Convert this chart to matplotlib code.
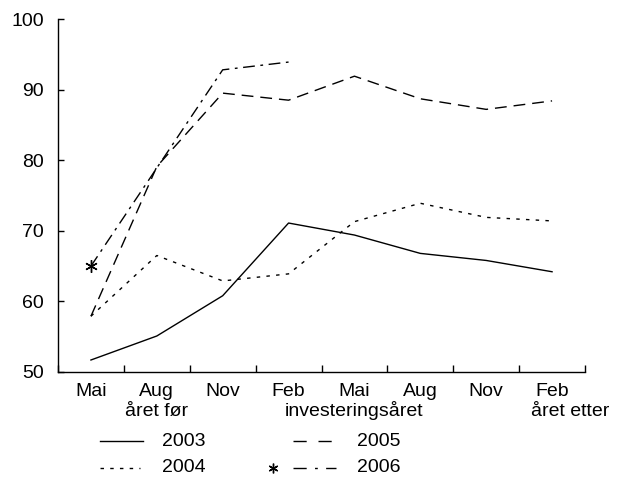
import matplotlib
matplotlib.use("Agg")
import matplotlib.pyplot as plt
from matplotlib.lines import Line2D
import matplotlib.transforms as mtransforms

plt.rcParams['font.family'] = ['Liberation Sans', 'DejaVu Sans']

months = ["Mai", "Aug", "Nov", "Feb", "Mai", "Aug", "Nov", "Feb"]
y2003 = [51.7, 55.1, 60.8, 71.1, 69.4, 66.8, 65.8, 64.2]
y2004 = [57.9, 66.5, 62.9, 63.9, 71.3, 73.9, 71.9, 71.4]
y2005 = [57.9, 79.1, 89.5, 88.5, 91.9, 88.7, 87.2, 88.4]
y2006 = [65.0, 78.9, 92.8, 93.9]
yticks = [50, 60, 70, 80, 90, 100]

FS = 14
W, H = 624, 479
fig = plt.figure(figsize=(W / 100, H / 100), dpi=100)
ax = fig.add_axes([58 / W, 1 - 372 / H, (585 - 58) / W, (372 - 19) / H])

xs = [i + 0.5 for i in range(len(months))]
lw = 1.0
st2003 = dict(color='black', lw=lw, linestyle='-')
st2004 = dict(color='black', lw=lw, linestyle=(0, (2.5, 4.5)))
st2005 = dict(color='black', lw=lw, linestyle=(0, (8.5, 5)))
st2006 = dict(color='black', lw=lw, linestyle=(0, (8.5, 4, 2, 4)))

ax.plot(xs, y2003, **st2003)
ax.plot(xs, y2004, **st2004)
ax.plot(xs, y2005, **st2005)
ax.plot(xs[:len(y2006)], y2006, **st2006)
ax.plot(xs[0], y2006[0], linestyle='none', marker=(6, 2, 0), markersize=9,
        color='black', markeredgewidth=1.0)

ax.set_xlim(0, len(months))
ax.set_ylim(50, 100)
ax.set_yticks(yticks)
ax.set_xticks(range(len(months) + 1))
ax.set_xticklabels([])
ax.tick_params(axis='y', direction='in', length=4, width=1, pad=10, labelsize=FS)
ax.tick_params(axis='x', direction='in', length=5, width=1)
for s in ['top', 'right']:
    ax.spines[s].set_visible(False)
for s in ['left', 'bottom']:
    ax.spines[s].set_linewidth(1.0)

trans = mtransforms.blended_transform_factory(ax.transData, fig.transFigure)
for x, m in zip(xs, months):
    ax.text(x, 1 - 391 / H, m, transform=trans, ha='center', va='center', fontsize=FS)
ax.text(xs[1], 1 - 411 / H, "året før", transform=trans, ha='center', va='center', fontsize=FS)
ax.text(xs[4], 1 - 411 / H, "investeringsåret", transform=trans, ha='center', va='center', fontsize=FS)
ax.text(531 / W, 1 - 411 / H, "året etter", transform=fig.transFigure, ha='left', va='center', fontsize=FS)

# legend
def fy(py):
    return 1 - py / H

def leg_line(x0, x1, py, style):
    fig.add_artist(Line2D([x0 / W, x1 / W], [fy(py), fy(py)], transform=fig.transFigure, **style))

r1, r2 = 441, 468
leg_line(100, 143, r1, st2003)
fig.text(162 / W, fy(r1), "2003", ha='left', va='center', fontsize=FS)
leg_line(100, 140, r2, st2004)
fig.text(162 / W, fy(r2), "2004", ha='left', va='center', fontsize=FS)
leg_line(293, 332, r1, dict(color='black', lw=lw, linestyle=(0, (9.5, 8.5))))
fig.text(357 / W, fy(r1), "2005", ha='left', va='center', fontsize=FS)
leg_line(293, 336, r2, dict(color='black', lw=lw, linestyle=(0, (9.5, 6, 2, 6))))
fig.add_artist(Line2D([273 / W], [fy(r2)], transform=fig.transFigure, linestyle='none',
                      marker=(6, 2, 0), markersize=7, color='black', markeredgewidth=1.0))
fig.text(357 / W, fy(r2), "2006", ha='left', va='center', fontsize=FS)

fig.savefig("out.png", dpi=100)
